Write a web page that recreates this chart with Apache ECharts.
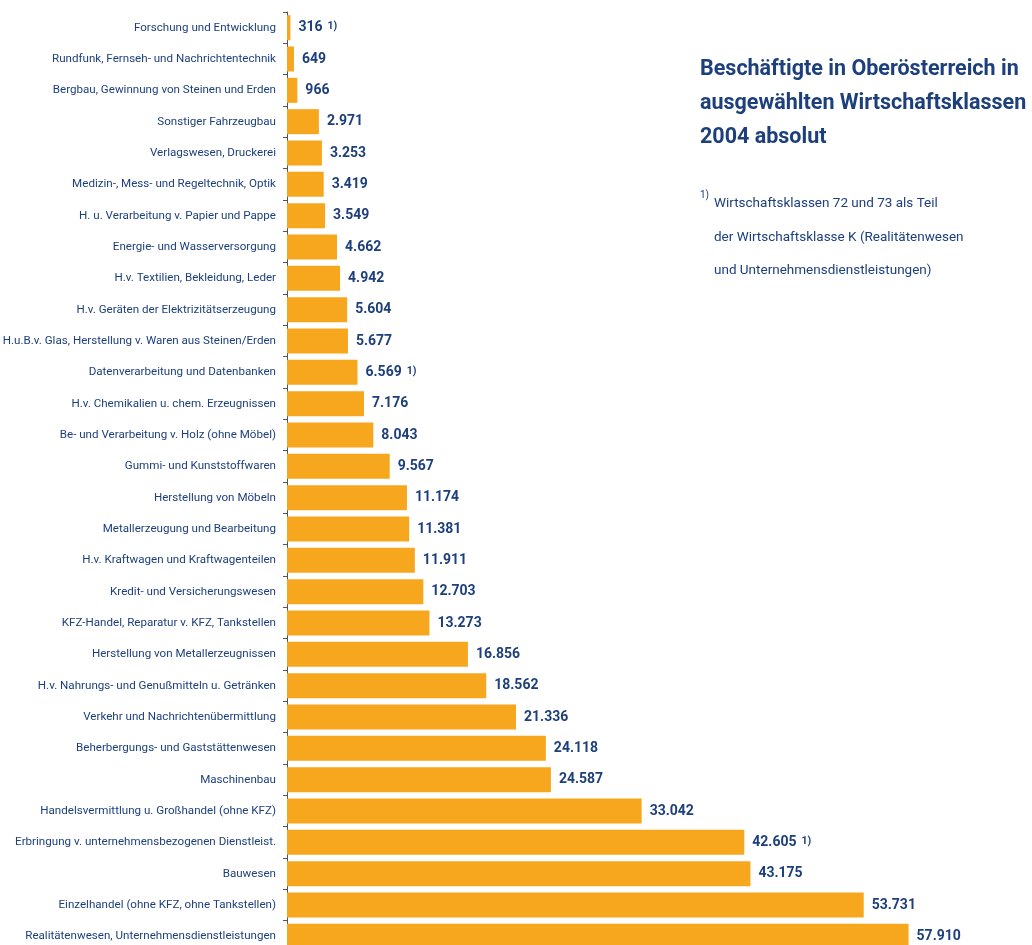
<!DOCTYPE html>
<html>
<head>
<meta charset="utf-8">
<script src="https://cdn.jsdelivr.net/npm/echarts@6/dist/echarts.min.js"></script>
<style>
  html, body { margin: 0; padding: 0; background: #fff; }
  #chart { width: 1032px; height: 945px; }
</style>
</head>
<body>
<div id="chart"></div>
<script>
// Kategorien von oben nach unten
const categories = [
    "Forschung und Entwicklung",
    "Rundfunk, Fernseh- und Nachrichtentechnik",
    "Bergbau, Gewinnung von Steinen und Erden",
    "Sonstiger Fahrzeugbau",
    "Verlagswesen, Druckerei",
    "Medizin-, Mess- und Regeltechnik, Optik",
    "H. u. Verarbeitung v. Papier und Pappe",
    "Energie- und Wasserversorgung",
    "H.v. Textilien, Bekleidung, Leder",
    "H.v. Geräten der Elektrizitätserzeugung",
    "H.u.B.v. Glas, Herstellung v. Waren aus Steinen/Erden",
    "Datenverarbeitung und Datenbanken",
    "H.v. Chemikalien u. chem. Erzeugnissen",
    "Be- und Verarbeitung v. Holz (ohne Möbel)",
    "Gummi- und Kunststoffwaren",
    "Herstellung von Möbeln",
    "Metallerzeugung und Bearbeitung",
    "H.v. Kraftwagen und Kraftwagenteilen",
    "Kredit- und Versicherungswesen",
    "KFZ-Handel, Reparatur v. KFZ, Tankstellen",
    "Herstellung von Metallerzeugnissen",
    "H.v. Nahrungs- und Genußmitteln u. Getränken",
    "Verkehr und Nachrichtenübermittlung",
    "Beherbergungs- und Gaststättenwesen",
    "Maschinenbau",
    "Handelsvermittlung u. Großhandel (ohne KFZ)",
    "Erbringung v. unternehmensbezogenen Dienstleist.",
    "Bauwesen",
    "Einzelhandel (ohne KFZ, ohne Tankstellen)",
    "Realitätenwesen, Unternehmensdienstleistungen"
];

const beschaeftigte = [
    316, 649, 966, 2971, 3253, 3419, 3549, 4662, 4942, 5604,
    5677, 6569, 7176, 8043, 9567, 11174, 11381, 11911, 12703, 13273,
    16856, 18562, 21336, 24118, 24587, 33042, 42605, 43175, 53731, 57910
];

// Kategorien mit Fußnote 1)
const fussnote = [
    "Forschung und Entwicklung",
    "Datenverarbeitung und Datenbanken",
    "Erbringung v. unternehmensbezogenen Dienstleist."
];

const titel = "Beschäftigte in Oberösterreich in\nausgewählten Wirtschaftsklassen\n2004 absolut";
const anmerkung = [
    "Wirtschaftsklassen 72 und 73 als Teil",
    "der Wirtschaftsklasse K (Realitätenwesen",
    "und Unternehmensdienstleistungen)"
];

const navy = "#1d3f7c";
const schrift = "Roboto, 'Liberation Sans', sans-serif";

function formatZahl(v) {
    return String(v).replace(/\B(?=(\d{3})+(?!\d))/g, ".");
}

const chart = echarts.init(document.getElementById("chart"));
chart.setOption({
    backgroundColor: "#ffffff",
    animation: false,
    title: {
        text: titel,
        left: 700,
        top: 53,
        padding: 0,
        textStyle: {
            color: navy,
            fontFamily: schrift,
            fontSize: 21.5,
            fontWeight: "bold",
            lineHeight: 34
        }
    },
    graphic: [
        {
            type: "text",
            left: 700,
            top: 190,
            style: { text: "1)", fill: navy, fontSize: 10, fontFamily: schrift }
        },
        {
            type: "text",
            left: 714,
            top: 187,
            style: {
                text: anmerkung.join("\n"),
                fill: navy,
                fontSize: 13.5,
                fontFamily: schrift,
                lineHeight: 33.5
            }
        }
    ],
    grid: {
        left: 287,
        top: 12,
        width: 644,
        height: 940,
        outerBoundsMode: "none",
        containLabel: false
    },
    xAxis: {
        type: "value",
        min: 0,
        max: 60000,
        show: false
    },
    yAxis: {
        type: "category",
        inverse: true,
        data: categories,
        axisLine: { show: true, lineStyle: { color: "#555", width: 1 } },
        axisTick: { show: true, length: 4, lineStyle: { color: "#555" } },
        axisLabel: {
            color: navy,
            fontFamily: schrift,
            fontSize: 11.6,
            margin: 11
        },
        splitLine: { show: false }
    },
    series: [
        {
            type: "bar",
            data: beschaeftigte,
            barWidth: 25,
            itemStyle: { color: "#f7a71d" },
            label: {
                show: true,
                position: "right",
                distance: 8,
                formatter: function (p) {
                    const txt = "{v|" + formatZahl(p.value) + "}";
                    return fussnote.indexOf(p.name) >= 0 ? txt + "{n|1)}" : txt;
                },
                rich: {
                    v: { color: navy, fontFamily: schrift, fontSize: 14, fontWeight: "bold" },
                    n: { color: navy, fontFamily: schrift, fontSize: 10.5, fontWeight: "bold", padding: [0, 0, 2, 5] }
                }
            }
        }
    ]
});
</script>
</body>
</html>
